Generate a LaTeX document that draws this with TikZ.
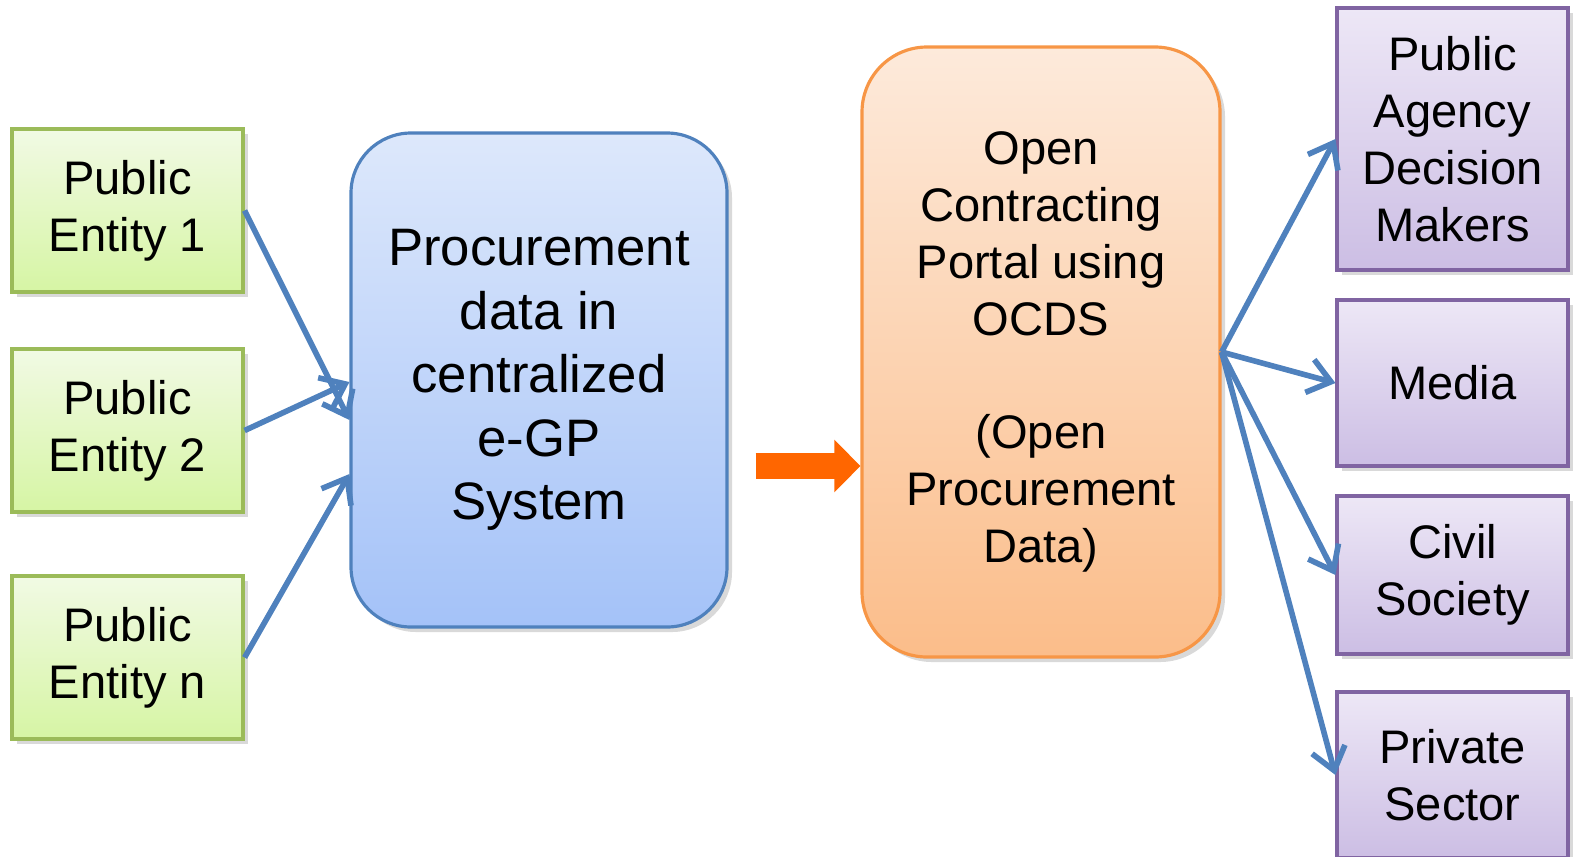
\documentclass[tikz,border=0pt]{standalone}
\usepackage{fontspec}
\setmainfont{Liberation Sans}
\usetikzlibrary{arrows.meta,shadows}
\definecolor{entTop}{RGB}{241,250,228}
\definecolor{entBot}{RGB}{214,245,164}
\definecolor{entLine}{RGB}{155,187,89}
\definecolor{sysTop}{RGB}{221,232,251}
\definecolor{sysBot}{RGB}{164,194,248}
\definecolor{sysLine}{RGB}{79,129,189}
\definecolor{porTop}{RGB}{253,234,219}
\definecolor{porBot}{RGB}{251,189,138}
\definecolor{porLine}{RGB}{247,150,70}
\definecolor{usrTop}{RGB}{237,231,246}
\definecolor{usrBot}{RGB}{204,190,228}
\definecolor{usrLine}{RGB}{128,100,162}
\definecolor{linkBlue}{RGB}{79,129,189}
\definecolor{bigOrange}{RGB}{255,102,0}
\begin{document}
\begin{tikzpicture}[
    every node/.style={align=center, inner sep=0pt, font=\fontsize{13.4}{16.2}\selectfont},
    box/.style={draw, line width=0.9pt, drop shadow={shadow xshift=0.05cm, shadow yshift=-0.05cm, opacity=0.3}},
    entity/.style={box, draw=entLine, top color=entTop, bottom color=entBot, minimum width=2.31cm, minimum height=1.63cm},
    sysbox/.style={box, draw=sysLine, top color=sysTop, bottom color=sysBot, rounded corners=0.6cm, minimum width=3.76cm, minimum height=4.94cm, font=\fontsize{15}{18.1}\selectfont},
    portal/.style={box, draw=porLine, top color=porTop, bottom color=porBot, rounded corners=0.65cm, minimum width=3.58cm, minimum height=6.1cm},
    user/.style={box, draw=usrLine, top color=usrTop, bottom color=usrBot, minimum width=2.31cm},
    link/.style={draw=linkBlue, line width=1.6pt, ->, >={Straight Barb[length=0.22cm, width=0.34cm]}},
    bigarrow/.style={draw=bigOrange, line width=0.26cm, -{Triangle[length=0.26cm, width=0.51cm]}}
  ]
    \useasboundingbox (0,0) rectangle (15.8,8.56);
    \node[entity] (pe1) at (1.275,6.455) {Public\\Entity 1};
    \node[entity] (pe2) at (1.275,4.255) {Public\\Entity 2};
    \node[entity] (pen) at (1.275,1.985) {Public\\Entity n};
    \node[sysbox] (egp) at (5.39,4.76) {Procurement\\data in\\centralized\\e-GP\\System};
    \node[portal] (ocds) at (10.41,5.04) {Open\\Contracting\\Portal using\\OCDS\\[16.2pt](Open\\Procurement\\Data)};
    \node[user, minimum height=2.62cm] (dm) at (14.525,7.17) {Public\\Agency\\Decision\\Makers};
    \node[user, minimum height=1.66cm] (media) at (14.525,4.73) {Media};
    \node[user, minimum height=1.58cm] (civil) at (14.525,2.81) {Civil\\Society};
    \node[user, minimum height=1.66cm] (private) at (14.525,0.81) {Private\\Sector};
    \draw[link] (pe1.east) -- ([yshift=-0.4cm]egp.west);
    \draw[link] (pe2.east) -- ([yshift=-0.02cm]egp.west);
    \draw[link] (pen.east) -- ([yshift=-0.94cm]egp.west);
    \draw[bigarrow] ([shift={(0.27,-0.86)}]egp.east) -- ([yshift=-1.14cm]ocds.west);
    \draw[link] (ocds.east) -- (dm.west);
    \draw[link] (ocds.east) -- (media.west);
    \draw[link] (ocds.east) -- (civil.west);
    \draw[link] (ocds.east) -- (private.west);
  \end{tikzpicture}
\end{document}
